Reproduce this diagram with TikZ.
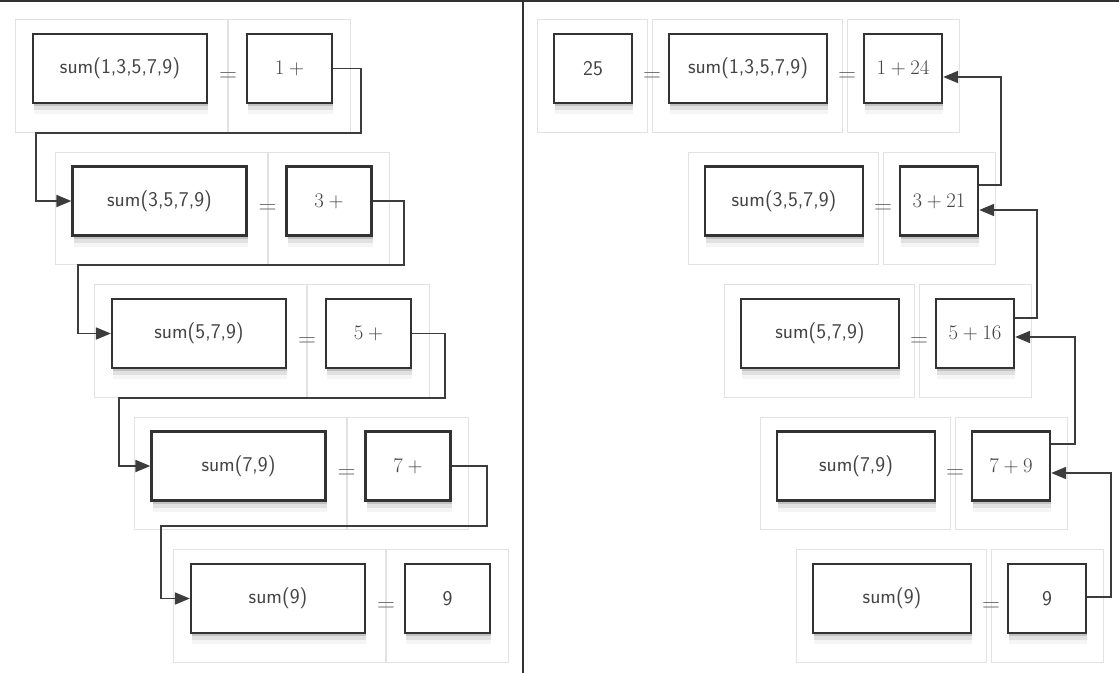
\documentclass[tikz,border=0pt]{standalone}
\usetikzlibrary{arrows.meta,shadows,backgrounds}
\definecolor{boxline}{HTML}{333333}
\definecolor{linkgray}{HTML}{3C3C3C}
\definecolor{framegray}{HTML}{E2E2E2}
\definecolor{txtgray}{HTML}{444444}
\begin{document}
\begin{tikzpicture}[x=1pt,y=-1pt,
  every node/.style={font=\fontsize{21}{25}\selectfont\sffamily,text=txtgray},
  box/.style={draw=boxline,line width=2.3pt,fill=white,minimum height=69pt,inner sep=0pt,
    drop shadow={shadow xshift=1pt,shadow yshift=-3pt,opacity=.32},
    drop shadow={shadow xshift=1pt,shadow yshift=-7pt,opacity=.17},
    drop shadow={shadow xshift=1pt,shadow yshift=-11pt,opacity=.08}},
  callbox/.style={box,minimum width=174pt},
  valbox/.style={box,minimum width=85pt},
  rcallbox/.style={box,minimum width=158pt},
  rvalbox/.style={box,minimum width=78pt},
  eq/.style={font=\fontsize{27}{30}\selectfont,text=black!62,inner sep=0pt},
  frame/.style={draw=framegray,line width=1pt},
  link/.style={draw=linkgray,line width=1.8pt,-{Triangle[length=15pt,width=12pt]}}]
\useasboundingbox (0,0) rectangle (1119,673);
\draw[boxline,line width=2pt] (0,0.8) -- (1119,0.8);
\draw[boxline,line width=2pt] (522.5,0) -- (522.5,673);

% left: going down
\node[callbox] (s1) at (120,68.5) {sum(1,3,5,7,9)};
\node[valbox] (v1) at (289.5,68.5) {$1\mskip\medmuskip+$};
\node[eq] (e1) at (228,77) {$=$};
\node[callbox] (s2) at (159.5,201) {sum(3,5,7,9)};
\node[valbox] (v2) at (329,201) {$3\mskip\medmuskip+$};
\node[eq] (e2) at (267.5,209.5) {$=$};
\node[callbox] (s3) at (199,333.5) {sum(5,7,9)};
\node[valbox] (v3) at (368.5,333.5) {$5\mskip\medmuskip+$};
\node[eq] (e3) at (307,342) {$=$};
\node[callbox] (s4) at (238.5,466) {sum(7,9)};
\node[valbox] (v4) at (408,466) {$7\mskip\medmuskip+$};
\node[eq] (e4) at (346.5,474.5) {$=$};
\node[callbox] (s5) at (278,598.5) {sum(9)};
\node[valbox] (v5) at (447.5,598.5) {9};
\node[eq] (e5) at (386,607) {$=$};

\coordinate (b1) at (361,133); \coordinate (c1) at (36,133);
\coordinate (b2) at (404,265); \coordinate (c2) at (78,265);
\coordinate (b3) at (445,398); \coordinate (c3) at (119,398);
\coordinate (b4) at (487,526); \coordinate (c4) at (161,526);
\draw[link] (v1.east) -| (b1) -- (c1) |- (s2.west);
\draw[link] (v2.east) -| (b2) -- (c2) |- (s3.west);
\draw[link] (v3.east) -| (b3) -- (c3) |- (s4.west);
\draw[link] (v4.east) -| (b4) -- (c4) |- (s5.west);

% right: coming back up
\node[rvalbox] (r0) at (593,68.5) {25};
\node[eq] (f0) at (652,77) {$=$};
\node[rcallbox] (rs1) at (748,68.5) {sum(1,3,5,7,9)};
\node[rvalbox] (rv1) at (903,68.5) {$1+24$};
\node[eq] (f1) at (847,77) {$=$};
\node[rcallbox] (rs2) at (784,201) {sum(3,5,7,9)};
\node[rvalbox] (rv2) at (939,201) {$3+21$};
\node[eq] (f2) at (883,209.5) {$=$};
\node[rcallbox] (rs3) at (820,333.5) {sum(5,7,9)};
\node[rvalbox] (rv3) at (975,333.5) {$5+16$};
\node[eq] (f3) at (919,342) {$=$};
\node[rcallbox] (rs4) at (856,466) {sum(7,9)};
\node[rvalbox] (rv4) at (1011,466) {$7+9$};
\node[eq] (f4) at (955,474.5) {$=$};
\node[rcallbox] (rs5) at (892,598.5) {sum(9)};
\node[rvalbox] (rv5) at (1047,598.5) {9};
\node[eq] (f5) at (991,607) {$=$};

\draw[link] ([yshift=16pt]rv2.east) -- ++(22,0) |- ([yshift=-8.5pt]rv1.east);
\draw[link] ([yshift=15.5pt]rv3.east) -- ++(22,0) |- ([yshift=-9pt]rv2.east);
\draw[link] ([yshift=22pt]rv4.east) -- ++(24,0) |- ([yshift=-3.5pt]rv3.east);
\draw[link] ([yshift=1.5pt]rv5.east) -- ++(24,0) |- ([yshift=-7pt]rv4.east);

% light frames behind each box
\begin{scope}[on background layer]
\foreach \i in {1,...,5}{
  \draw[frame] ([xshift=-16pt,yshift=13pt]s\i.north west) rectangle ([xshift=-18pt,yshift=-28pt]v\i.south west);
  \draw[frame] ([xshift=-17pt,yshift=13pt]v\i.north west) rectangle ([xshift=17pt,yshift=-28pt]v\i.south east);
  \draw[frame] ([xshift=-15pt,yshift=13pt]rs\i.north west) rectangle ([xshift=-20pt,yshift=-28pt]rv\i.south west);
  \draw[frame] ([xshift=-15pt,yshift=13pt]rv\i.north west) rectangle ([xshift=16pt,yshift=-28pt]rv\i.south east);
}
\draw[frame] ([xshift=-15pt,yshift=13pt]r0.north west) rectangle ([xshift=-20pt,yshift=-28pt]rs1.south west);
\end{scope}
\end{tikzpicture}
\end{document}
